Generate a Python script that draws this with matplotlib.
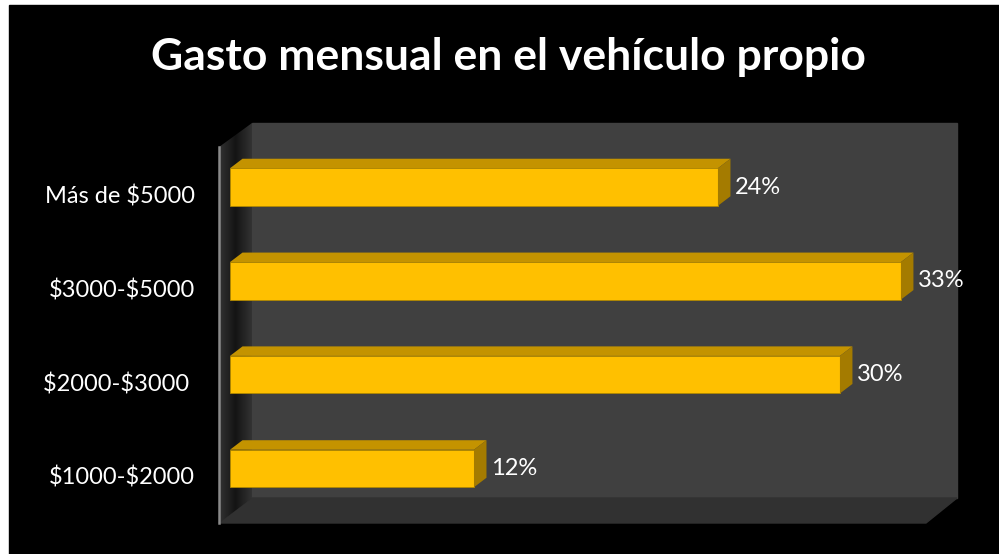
import numpy as np
import matplotlib.pyplot as plt
import matplotlib.transforms as mtransforms
from matplotlib.patches import Polygon, Rectangle

# data
categories = ["$1000-$2000", "$2000-$3000 ", "$3000-$5000", "Más de $5000"]
values = [12, 30, 33, 24]

front = "#FFC000"
top_c = "#C49300"
side_c = "#A47B00"

plt.rcParams['font.family'] = ['Lato', 'DejaVu Sans']
plt.rcParams['text.parse_math'] = False

fig = plt.figure(figsize=(9.99, 5.54), dpi=100)

# background / 3d walls, drawn in pixel coords
bg = fig.add_axes([0, 0, 1, 1])
bg.add_patch(Rectangle((0, 0), 999, 554, color="white"))
bg.add_patch(Rectangle((9, 5), 990, 549, color="black"))
bg.add_patch(Rectangle((252, 123), 705, 375, color="#404040"))
bg.add_patch(Polygon([(219, 523), (252, 498), (957, 498), (926, 523)], color="#313131"))
wall = Polygon([(219, 147), (252, 123), (252, 498), (219, 523)], facecolor="none", edgecolor="none")
bg.add_patch(wall)
# left wall shading
grad = np.interp(np.linspace(0, 1, 64), [0, 0.5, 1], [0.2, 0.08, 0.2]).reshape(1, -1)
im = bg.imshow(np.repeat(grad, 2, axis=0), cmap="gray", vmin=0, vmax=1,
               extent=(219, 252, 523, 123), aspect="auto", zorder=2)
im.set_clip_path(wall)
bg.plot([219, 219], [147, 523], color="#8a8a8a", lw=1.8, zorder=3)
bg.set_xlim(0, 999)
bg.set_ylim(554, 0)
bg.axis("off")

bg.text(508, 57, "Gasto mensual en el vehículo propio", color="white",
        fontsize=32, fontweight="bold", ha="center", va="center")

# bars
ax = fig.add_axes([230 / 999, 38.6 / 554, 711.6 / 999, 375.3 / 554])
ax.set_facecolor("none")
ax.set_xlim(0, 35)
ax.set_ylim(-0.5, 3.5)
for s in ax.spines.values():
    s.set_visible(False)
ax.set_xticks([])

h = 0.4
dx = 12.5 / 20.33
dy = 9.5 / 93.83
ypos = np.arange(len(categories))
ax.barh(ypos, values, height=h, color=front, edgecolor="#B08800", linewidth=0.6)
for y, v in zip(ypos, values):
    ax.add_patch(Polygon([(0, y + h / 2), (dx, y + h / 2 + dy), (v + dx, y + h / 2 + dy), (v, y + h / 2)],
                         facecolor=top_c, edgecolor="none"))
    ax.add_patch(Polygon([(v, y - h / 2), (v + dx, y - h / 2 + dy), (v + dx, y + h / 2 + dy), (v, y + h / 2)],
                         facecolor=side_c, edgecolor="none"))
    ax.text(v + dx + 0.22, y, f"{v}%", color="white", fontsize=17, va="center", ha="left")

ax.set_yticks(ypos)
ax.set_yticklabels(categories, fontsize=17, color="white")
ax.tick_params(axis="y", length=0, pad=25)
# category labels sit a bit below the bar centres
shift = mtransforms.ScaledTranslation(0, -7.5 / 100, fig.dpi_scale_trans)
for lab in ax.get_yticklabels():
    lab.set_transform(lab.get_transform() + shift)

fig.savefig("out.png", dpi=100)
